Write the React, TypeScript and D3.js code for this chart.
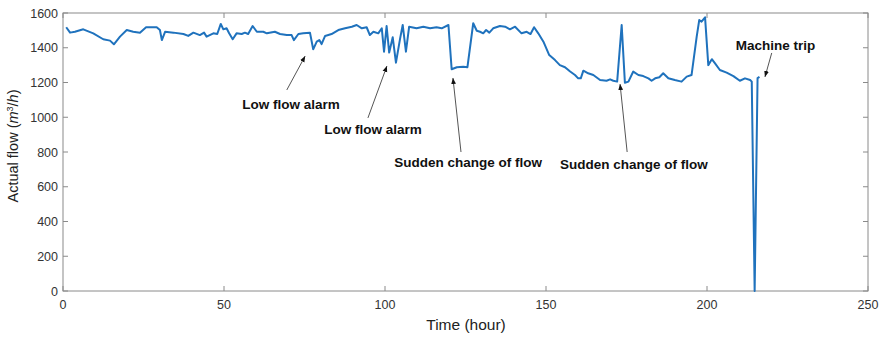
import React from "react";
import * as d3 from "d3";

const hours: number[] = [
  1, 2.2, 3.7, 6.3, 9.4, 12.5, 14.6, 15.8, 17.7, 19.8, 21.8, 23.9, 25.8, 29.1, 30.1, 30.7, 31.7, 34.3, 37.4, 38.9,
  40.5, 42.5, 43.8, 44.6, 46.7, 47.9, 49, 49.8, 50.8, 51.6, 52.7, 53.9, 55.5, 56.5, 57.5, 58.9, 60.2, 62.2, 63.3, 65.8,
  67.4, 69.5, 71, 71.7, 73.1, 74.6, 76.7, 77.7, 78.8, 79.6, 80.3, 81.4, 83.4, 85.5, 87.6, 89.7, 91.2, 92.8, 94.3, 95.3,
  96.4, 97.9, 99, 99.7, 100.5, 101.3, 102.4, 103.4, 104.7, 105.5, 106.5, 107.5, 109.8, 111.9, 114, 116, 117.6, 119.7, 120.7, 122.3,
  124.3, 125.6, 127.4, 128.5, 129.5, 130.5, 131.4, 132.4, 133.6, 135.7, 137.3, 138.8, 140.4, 142.4, 144, 145.2, 146.3, 147.6, 149.2, 151,
  152.8, 154.3, 155.9, 157.5, 159, 160, 160.8, 161.6, 163.1, 164.7, 166.8, 168.8, 169.9, 170.9, 172.1, 173.5, 174.5, 175.6, 177.1, 178.7,
  180.2, 181.8, 182.8, 183.9, 185.2, 186.4, 188, 190, 192.1, 193.7, 195.2, 196.8, 197.6, 198.3, 199.4, 200.4, 201.5, 202.5, 204, 206.1,
  208.2, 210.2, 211.8, 213.4, 213.9, 214.8, 215.7, 216.3,
];

const flow: number[] = [
  1518, 1487, 1492, 1506, 1483, 1449, 1441, 1420, 1464, 1502, 1492, 1487, 1518, 1518, 1502, 1444, 1492, 1487, 1479, 1468,
  1487, 1473, 1487, 1464, 1483, 1479, 1537, 1506, 1512, 1483, 1449, 1483, 1479, 1487, 1479, 1525, 1492, 1492, 1483, 1492,
  1479, 1473, 1473, 1444, 1479, 1483, 1487, 1391, 1435, 1444, 1421, 1468, 1479, 1502, 1512, 1521, 1531, 1512, 1518, 1473,
  1492, 1483, 1512, 1377, 1525, 1372, 1460, 1314, 1454, 1531, 1377, 1521, 1512, 1521, 1512, 1518, 1512, 1531, 1276, 1288,
  1291, 1288, 1541, 1498, 1492, 1483, 1502, 1487, 1512, 1525, 1521, 1506, 1521, 1483, 1492, 1479, 1518, 1483, 1435, 1358,
  1329, 1300, 1288, 1263, 1243, 1224, 1224, 1268, 1253, 1243, 1214, 1210, 1218, 1210, 1205, 1531, 1199, 1205, 1263, 1243,
  1237, 1224, 1210, 1224, 1230, 1253, 1224, 1214, 1205, 1234, 1243, 1464, 1560, 1550, 1575, 1300, 1334, 1310, 1272, 1257,
  1237, 1210, 1224, 1214, 1205, 0, 1225, 1232,
];

const xTicks: number[] = [0, 50, 100, 150, 200, 250];
const yTicks: number[] = [0, 200, 400, 600, 800, 1000, 1200, 1400, 1600];

// annotations: label, text anchor (hour, flow), arrow tail (hour, flow), arrow head (hour, flow)
const annLabels: string[] = ["Low flow alarm", "Low flow alarm", "Sudden change of flow", "Sudden change of flow", "Machine trip"];
const annText: [number, number][] = [[70.8, 1053], [96.3, 909], [125.8, 719], [177.3, 706], [221.3, 1393]];
const annTail: [number, number][] = [[69.5, 1157], [94.7, 996], [123.6, 800], [175.2, 800], [220.1, 1370]];
const annHead: [number, number][] = [[75.2, 1352], [100.6, 1295], [121.1, 1226], [173, 1191], [218, 1232]];

export default function App() {
  const W = 880, H = 338;
  const m = { left: 63, right: 868, top: 13, bottom: 291 };
  const x = d3.scaleLinear().domain([0, 250]).range([m.left, m.right]);
  const y = d3.scaleLinear().domain([0, 1600]).range([m.bottom, m.top]);
  const line = d3.line<number>().x((_, i) => x(hours[i])).y((d) => y(d));
  const axisColor = "#8a8a8a";
  const tickLen = 5;
  const font = "'Liberation Sans', Arial, sans-serif";

  return (
    <svg width={W} height={H} style={{ position: "absolute", left: 0, top: 0, background: "#fff" }}>
      <defs>
        <marker id="ah" viewBox="0 0 10 10" refX="10" refY="5" markerWidth="6" markerHeight="6" orient="auto">
          <path d="M0,1 L10,5 L0,9 z" fill="#111" />
        </marker>
      </defs>
      <rect x={m.left} y={m.top} width={m.right - m.left} height={m.bottom - m.top} fill="none" stroke={axisColor} strokeWidth={1} />
      {xTicks.map((t) => (
        <g key={"xt" + t}>
          <line x1={x(t)} x2={x(t)} y1={m.bottom} y2={m.bottom - tickLen} stroke={axisColor} />
          <line x1={x(t)} x2={x(t)} y1={m.top} y2={m.top + tickLen} stroke={axisColor} />
          <text x={x(t)} y={y(0) + 18} textAnchor="middle" fontFamily={font} fontSize={12.5} fill="#333">{t}</text>
        </g>
      ))}
      {yTicks.map((t) => (
        <g key={"yt" + t}>
          <line x1={m.left} x2={m.left + tickLen} y1={y(t)} y2={y(t)} stroke={axisColor} />
          <line x1={m.right} x2={m.right - tickLen} y1={y(t)} y2={y(t)} stroke={axisColor} />
          <text x={m.left - 5} y={y(t) + 4.5} textAnchor="end" fontFamily={font} fontSize={12.5} fill="#333">{t}</text>
        </g>
      ))}
      <path d={line(flow) || ""} fill="none" stroke="#1f72bd" strokeWidth={2} strokeLinejoin="round" />
      {annLabels.map((lab, i) => (
        <g key={"an" + i}>
          <line x1={x(annTail[i][0])} y1={y(annTail[i][1])} x2={x(annHead[i][0])} y2={y(annHead[i][1])} stroke="#555" strokeWidth={1} markerEnd="url(#ah)" />
          <text x={x(annText[i][0])} y={y(annText[i][1]) + 1} textAnchor="middle" fontFamily={font} fontWeight="bold" fontSize={13.5} fill="#111">{lab}</text>
        </g>
      ))}
      <text x={466} y={330} textAnchor="middle" fontFamily={font} fontSize={15.5} fill="#222">Time (hour)</text>
      <text transform={`translate(18, 146) rotate(-90)`} textAnchor="middle" fontFamily={font} fontSize={14.5} fill="#222">
        Actual flow (<tspan fontStyle="italic">m</tspan><tspan dy={-5} fontSize={9}>3</tspan><tspan dy={5}>/</tspan><tspan fontStyle="italic">h</tspan>)
      </text>
    </svg>
  );
}
